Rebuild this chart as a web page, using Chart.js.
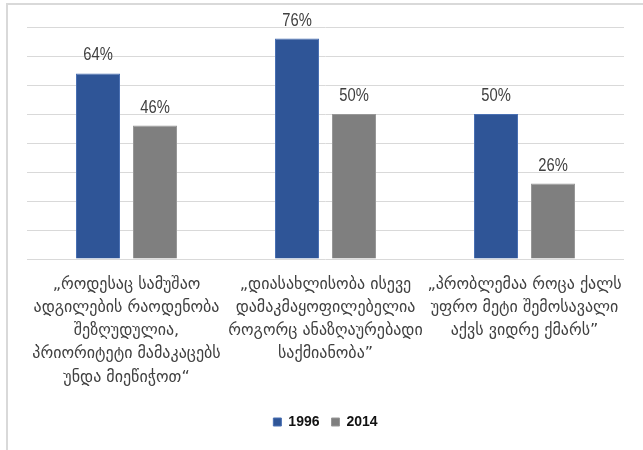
<!DOCTYPE html>
<html>
<head>
<meta charset="utf-8">
<script src="https://cdn.jsdelivr.net/npm/chart.js@4.4.1/dist/chart.umd.min.js"></script>
<style>
  html, body { margin: 0; padding: 0; background: #fff; overflow: hidden; }
  #frame { position: absolute; left: 6px; top: 3px; width: 700px; height: 500px; border: 2px solid #d9d9d9; }
  #wrap { position: absolute; left: 0; top: 0; width: 643px; height: 450px; }
</style>
</head>
<body>
<div id="frame"></div>
<div id="wrap"><canvas id="chart"></canvas></div>
<script>
const categories = [
    ["„როდესაც სამუშაო", "ადგილების რაოდენობა", "შეზღუდულია,", "პრიორიტეტი მამაკაცებს", "უნდა მიეწიჭოთ“"],
    ["„დიასახლისობა ისევე", "დამაკმაყოფილებელია", "როგორც ანაზღაურებადი", "საქმიანობა”"],
    ["„პრობლემაა როცა ქალს", "უფრო მეტი შემოსავალი", "აქვს ვიდრე ქმარს”"]
]
const values1996 = [64, 76, 50]
const values2014 = [46, 50, 26]
const seriesNames = ["1996", "2014"]

// percent labels over the bars (squeezed a bit, the original font is narrow)
const barLabels = {
    id: "barLabels",
    afterDatasetsDraw(chart) {
        const ctx = chart.ctx
        chart.data.datasets.forEach((ds, i) => {
            chart.getDatasetMeta(i).data.forEach((bar, j) => {
                ctx.save()
                ctx.translate(bar.x, bar.y - 13)
                ctx.scale(0.82, 1)
                ctx.font = "18px 'Liberation Sans', sans-serif"
                ctx.fillStyle = "#404040"
                ctx.textAlign = "center"
                ctx.textBaseline = "alphabetic"
                ctx.fillText(ds.data[j] + "%", 0, 0)
                ctx.restore()
            })
        })
    }
}

const ctx = document.getElementById("chart").getContext("2d")
const myChart = new Chart(ctx, {
    type: "bar",
    data: {
        labels: categories,
        datasets: [{
            label: seriesNames[0],
            data: values1996,
            backgroundColor: "#2F5597",
            borderColor: "#4a70b3",
            borderWidth: 1,
            categoryPercentage: 0.573,
            barPercentage: 0.772
        }, {
            label: seriesNames[1],
            data: values2014,
            backgroundColor: "#7f7f7f",
            borderColor: "#989898",
            borderWidth: 1,
            categoryPercentage: 0.573,
            barPercentage: 0.772
        }]
    },
    options: {
        responsive: true,
        maintainAspectRatio: false,
        animation: false,
        layout: { padding: { left: 27, right: 19, top: 27, bottom: 11 } },
        plugins: {
            legend: {
                position: "bottom",
                labels: {
                    boxWidth: 8,
                    boxHeight: 8,
                    padding: 12,
                    color: "#111",
                    font: { family: "'Liberation Sans', sans-serif", size: 14, weight: "bold" }
                }
            },
            tooltip: { enabled: false }
        },
        scales: {
            x: {
                grid: { display: false, drawTicks: false },
                border: { display: false },
                ticks: {
                    color: "#404040",
                    padding: 14,
                    maxRotation: 0,
                    autoSkip: false,
                    font: { family: "'DejaVu Sans', sans-serif", size: 16, lineHeight: 1.45 }
                }
            },
            y: {
                min: 0,
                max: 80,
                grid: { color: "#d9d9d9", lineWidth: 1, drawTicks: false },
                border: { display: false },
                ticks: { display: false, stepSize: 10 }
            }
        }
    },
    plugins: [barLabels]
})
</script>
</body>
</html>
